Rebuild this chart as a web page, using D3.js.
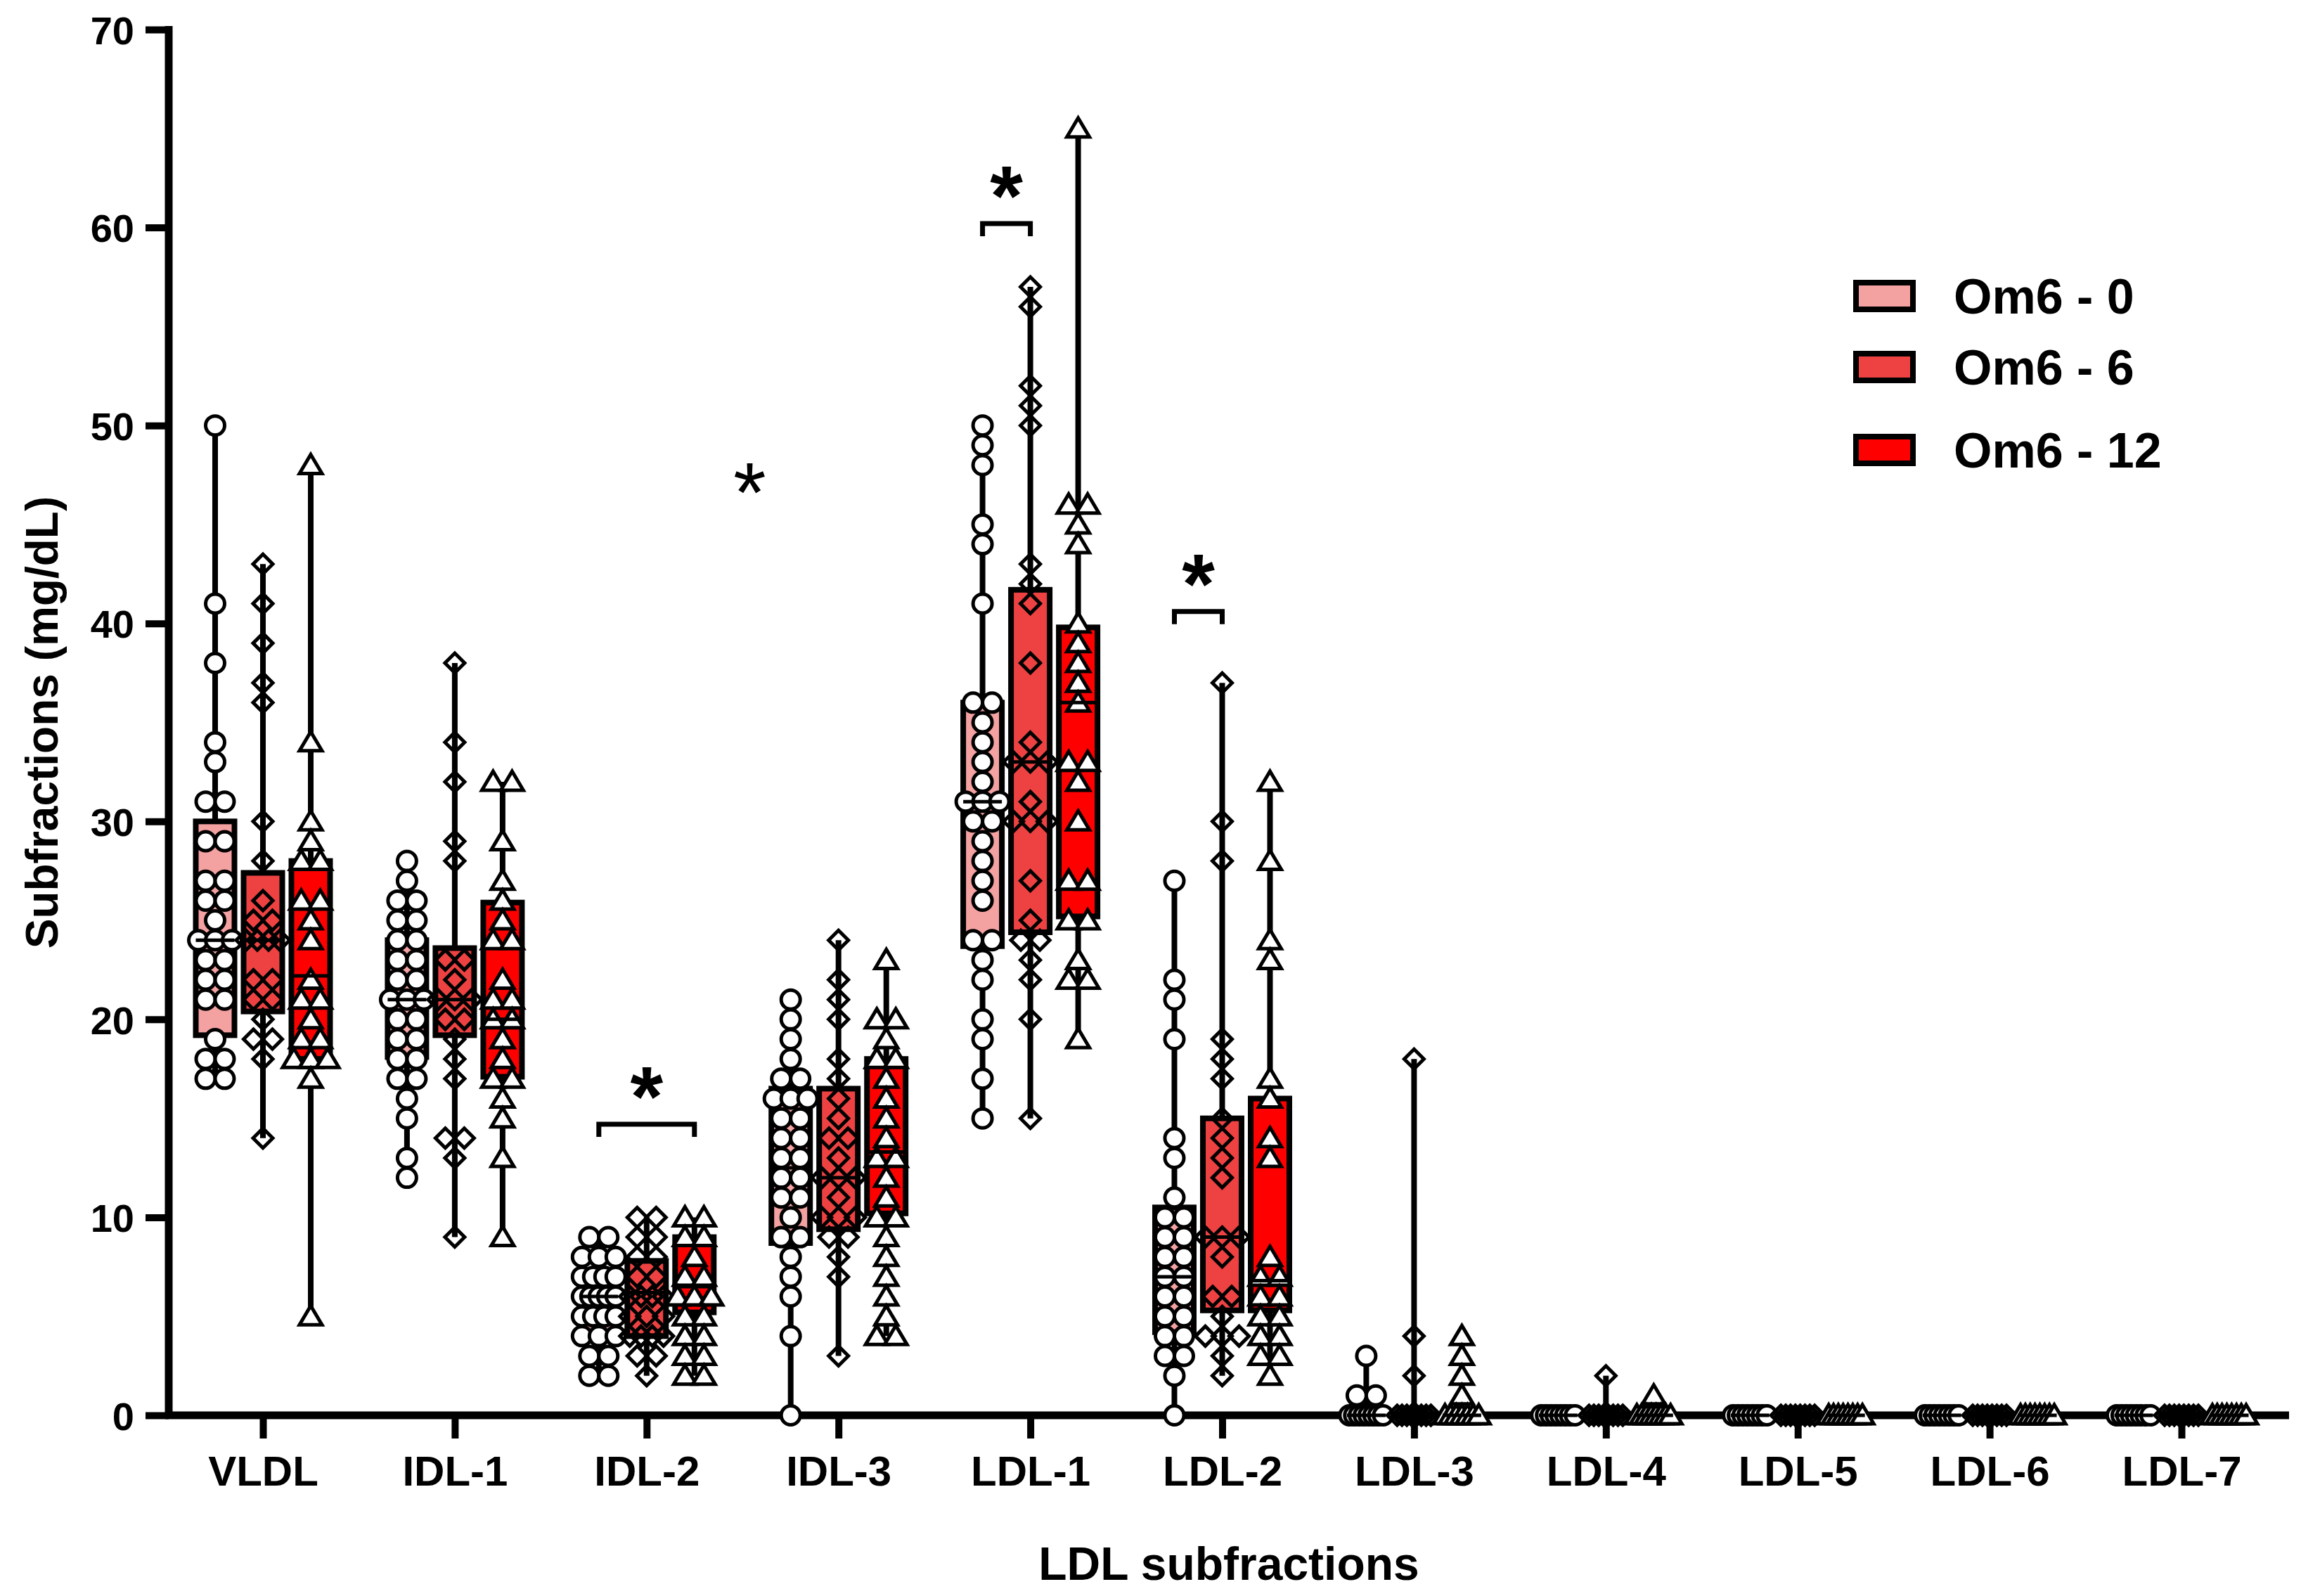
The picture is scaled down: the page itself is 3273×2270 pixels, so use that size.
<!DOCTYPE html>
<meta charset="utf-8">
<head>
<style>
  body { margin: 0; background: #fff; }
  text { font-family: "Liberation Sans", Arial, sans-serif; font-weight: bold; fill: #000; }
</style>
</head>
<title>LDL subfractions</title>
<script src="https://d3js.org/d3.v7.min.js"></script>
<div id="chart"></div>
<script>
// categories and groups
var categories = ["VLDL", "IDL-1", "IDL-2", "IDL-3", "LDL-1", "LDL-2", "LDL-3", "LDL-4", "LDL-5", "LDL-6", "LDL-7"];
var series = ["Om6 - 0", "Om6 - 6", "Om6 - 12"];
var colors = ["#f4a1a1", "#ee4242", "#ff0000"];
var yTicks = [0, 10, 20, 30, 40, 50, 60, 70];

// individual values (mg/dL), one list per category
var om6_0 = [
  [50,41,38,34,33,31,31,29,29,27,27,26,26,25,24,24,24,23,23,22,22,21,21,19,18,18,17,17],
  [28,27,26,26,25,25,24,24,23,23,22,22,21,21,21,20,20,19,19,18,18,17,17,16,15,13,12],
  [9,9,8,8,8,7,7,7,7,6,6,6,6,6,5,5,5,5,4,4,4,3,3,2,2],
  [21,20,19,18,17,17,16,16,16,15,15,14,14,13,13,12,12,11,11,10,9,9,8,7,6,4,0],
  [50,49,48,45,44,41,36,36,35,34,33,32,31,31,31,30,30,29,28,27,26,24,24,23,22,20,19,17,15],
  [27,22,21,19,14,13,11,10,10,9,9,8,8,7,7,6,6,5,5,4,4,3,3,2,0],
  [3,1,1,0,0,0,0,0,0,0,0],
  [0,0,0,0,0,0,0,0],
  [0,0,0,0,0,0,0,0],
  [0,0,0,0,0,0,0,0],
  [0,0,0,0,0,0,0,0]
];
var om6_6 = [
  [43,41,39,37,36,30,28,26,25,25,24,24,24,24,22,22,21,21,20,19,19,18,14],
  [38,34,32,29,28,23,23,22,21,21,21,20,20,19,18,17,14,14,13,9],
  [10,10,9,9,8,8,7,7,6,6,6,6,5,5,5,4,4,4,4,3,3,2],
  [24,22,21,20,18,17,16,15,14,14,13,12,12,12,11,10,10,10,9,9,8,7,3],
  [57,56,52,51,50,43,42,41,38,34,33,33,33,31,30,30,30,27,25,24,24,23,22,20,15],
  [37,30,28,19,18,17,15,14,13,12,9,9,9,8,6,6,5,4,4,4,3,2],
  [18,4,2,0,0,0,0,0,0,0,0],
  [2,0,0,0,0,0,0,0,0],
  [0,0,0,0,0,0,0,0],
  [0,0,0,0,0,0,0,0],
  [0,0,0,0,0,0,0,0]
];
var om6_12 = [
  [48,34,30,29,28,28,26,26,25,24,22,21,21,20,19,19,18,18,18,17,5],
  [32,32,29,27,26,25,24,24,22,21,21,20,20,19,18,17,17,16,15,13,9],
  [10,10,9,9,8,7,7,6,6,6,5,5,4,4,3,3,2,2],
  [23,20,20,19,18,18,17,16,15,14,13,13,12,11,10,10,9,8,7,6,5,4,4],
  [65,46,46,45,44,40,39,38,37,36,33,33,32,30,27,27,25,25,23,22,22,19],
  [32,28,24,23,17,16,14,13,8,7,7,6,6,5,5,4,4,3,3,2],
  [4,3,2,1,0,0,0,0,0,0,0],
  [1,0,0,0,0,0,0,0,0],
  [0,0,0,0,0,0,0,0],
  [0,0,0,0,0,0,0,0],
  [0,0,0,0,0,0,0,0]
];

// box quartiles
var q1_0  = [19.2, 18.1, 4.2, 8.7, 23.7, 4.2, 0, 0, 0, 0, 0];
var med_0 = [24,   21,   6,   12.5, 31,  7,   0, 0, 0, 0, 0];
var q3_0  = [30,   24,   7.3, 16.5, 36,  10.5, 0, 0, 0, 0, 0];
var q1_6  = [20.4, 19.2, 4,   9.4, 24.4, 5.3, 0, 0, 0, 0, 0];
var med_6 = [24,   21,   6.2, 12,  33,   9,   0, 0, 0, 0, 0];
var q3_6  = [27.4, 23.6, 7.8, 16.5, 41.7, 15, 0, 0, 0, 0, 0];
var q1_12  = [18,   17.1, 5.2, 10.2, 25.2, 5.3, 0, 0, 0, 0, 0];
var med_12 = [22.2, 20,   6.5, 13.3, 36,   6.8, 0, 0, 0, 0, 0];
var q3_12  = [28,   25.9, 9,   18,   39.8, 16,  0, 0, 0, 0, 0];

// significance brackets
var sigCat  = ["IDL-2", "LDL-1", "LDL-2"];
var sigFrom = ["Om6 - 0", "Om6 - 0", "Om6 - 0"];
var sigTo   = ["Om6 - 12", "Om6 - 6", "Om6 - 6"];
var sigY    = [14.7, 60.2, 40.6];

var allPts = [om6_0, om6_6, om6_12];
var allQ1 = [q1_0, q1_6, q1_12];
var allMed = [med_0, med_6, med_12];
var allQ3 = [q3_0, q3_6, q3_12];

var W = 3273, H = 2270;
var svg = d3.select("#chart").append("svg")
  .attr("width", W).attr("height", H)
  .style("background", "#fff");

var x = d3.scalePoint().domain(categories).range([374, 3103]);
var xs = d3.scalePoint().domain(series).range([-68, 68]);
var y = d3.scaleLinear().domain([0, 70]).range([2013, 42]);

var boxW = 55;

// axes
var yAxis = svg.append("g")
  .attr("transform", "translate(240,0)")
  .call(d3.axisLeft(y).tickValues(yTicks).tickSize(33).tickSizeOuter(0).tickPadding(16));
yAxis.select(".domain").attr("stroke", "#000").attr("stroke-width", 11)
  .attr("d", "M0," + (y(0) + 5) + "V" + (y(70) - 5));
yAxis.selectAll(".tick line").attr("stroke", "#000").attr("stroke-width", 10);
yAxis.selectAll(".tick text").style("font-size", "56px").attr("dy", "0.36em");

var xAxis = svg.append("g")
  .attr("transform", "translate(0," + y(0) + ")")
  .call(d3.axisBottom(x).tickSize(33).tickPadding(24));
xAxis.select(".domain").attr("stroke", "#000").attr("stroke-width", 11)
  .attr("d", "M235,0H3256");
xAxis.selectAll(".tick line").attr("stroke", "#000").attr("stroke-width", 10);
xAxis.selectAll(".tick text").style("font-size", "60px");

// axis titles
svg.append("text")
  .attr("x", (240 + 3256) / 2).attr("y", 2247)
  .attr("text-anchor", "middle")
  .style("font-size", "66px")
  .text("LDL subfractions");

svg.append("text")
  .attr("transform", "translate(82," + (y(0) + y(70)) / 2 + ") rotate(-90)")
  .attr("text-anchor", "middle")
  .style("font-size", "64px")
  .text("Subfractions (mg/dL)");

// marker shapes
function markerPath(j) {
  var p = d3.path();
  if (j == 0) {
    p.arc(0, 0, 13.5, 0, 2 * Math.PI);
  } else if (j == 1) {
    p.moveTo(0, -14); p.lineTo(14, 0); p.lineTo(0, 14); p.lineTo(-14, 0);
  } else {
    p.moveTo(0, -15); p.lineTo(16, 12); p.lineTo(-16, 12);
  }
  p.closePath();
  return p.toString();
}

// spread points with equal values side by side
function layout(vals) {
  var out = [];
  var groups = d3.group(vals, function(v) { return v; });
  groups.forEach(function(list, v) {
    var k = list.length;
    var step = k > 1 ? Math.min(27, 48 / (k - 1)) : 0;
    list.forEach(function(d, i) {
      out.push({v: v, dx: (i - (k - 1) / 2) * step});
    });
  });
  return out;
}

categories.forEach(function(cat, i) {
  series.forEach(function(s, j) {
    var cx = x(cat) + xs(s);
    var pts = allPts[j][i];
    var g = svg.append("g").attr("class", "grp");

    // whisker min-max
    g.append("line")
      .attr("x1", cx).attr("x2", cx)
      .attr("y1", y(d3.min(pts))).attr("y2", y(d3.max(pts)))
      .attr("stroke", "#000").attr("stroke-width", 8);

    // box
    var top = y(allQ3[j][i]), bot = y(allQ1[j][i]);
    g.append("rect")
      .attr("x", cx - boxW / 2).attr("width", boxW)
      .attr("y", top).attr("height", Math.max(0, bot - top))
      .attr("fill", colors[j])
      .attr("stroke", "#000").attr("stroke-width", 8);

    // points
    g.selectAll("path.pt")
      .data(layout(pts))
      .enter()
      .append("path")
      .attr("class", "pt")
      .attr("d", markerPath(j))
      .attr("transform", function(d) { return "translate(" + (cx + d.dx) + "," + y(d.v) + ")"; })
      .attr("fill", j == 1 ? "none" : "#fff")
      .attr("stroke", "#000").attr("stroke-width", 5);

    // median
    g.append("line")
      .attr("x1", cx - boxW / 2).attr("x2", cx + boxW / 2)
      .attr("y1", y(allMed[j][i])).attr("y2", y(allMed[j][i]))
      .attr("stroke", "#000").attr("stroke-width", 5);
  });
});

// significance brackets
sigCat.forEach(function(cat, k) {
  var x1 = x(cat) + xs(sigFrom[k]), x2 = x(cat) + xs(sigTo[k]);
  var yy = y(sigY[k]);
  svg.append("path")
    .attr("d", "M" + x1 + "," + (yy + 18) + "V" + yy + "H" + x2 + "V" + (yy + 18))
    .attr("fill", "none").attr("stroke", "#000").attr("stroke-width", 7);
  svg.append("text")
    .attr("x", (x1 + x2) / 2).attr("y", yy - 62 + 64)
    .attr("text-anchor", "middle")
    .style("font-size", "120px")
    .text("*");
});

// stray asterisk
svg.append("text")
  .attr("x", (x("IDL-2") + x("IDL-3")) / 2 + 10).attr("y", y(47.2) + 58)
  .attr("text-anchor", "middle")
  .style("font-size", "120px").style("font-weight", "normal")
  .text("*");

// legend
var legend = svg.append("g");
var legY = [421, 522, 640];
series.forEach(function(s, j) {
  legend.append("rect")
    .attr("x", 2640).attr("y", legY[j] - 19)
    .attr("width", 81).attr("height", 38)
    .attr("fill", colors[j])
    .attr("stroke", "#000").attr("stroke-width", 8);
  legend.append("text")
    .attr("x", 2779).attr("y", legY[j])
    .attr("dy", "0.36em")
    .style("font-size", "70px")
    .text(s);
});
</script>
